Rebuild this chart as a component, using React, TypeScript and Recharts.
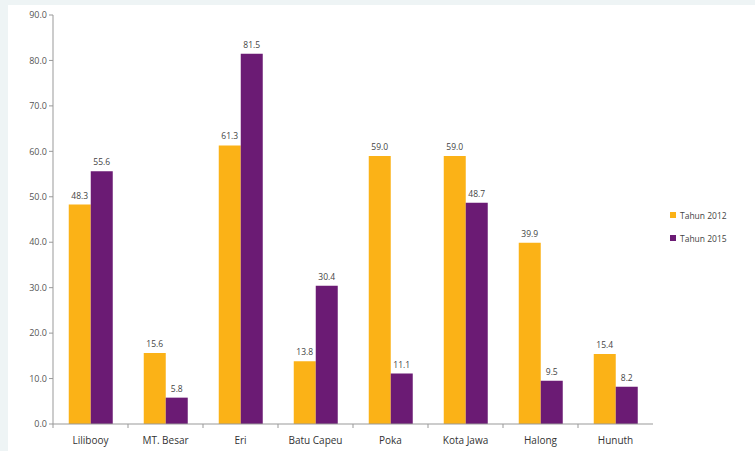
import React from "react";
import { BarChart, Bar, XAxis, YAxis, LabelList } from "recharts";

const categories = ["Lilibooy", "MT. Besar", "Eri", "Batu Capeu", "Poka", "Kota Jawa", "Halong", "Hunuth"];
const tahun2012 = [48.3, 15.6, 61.3, 13.8, 59.0, 59.0, 39.9, 15.4];
const tahun2015 = [55.6, 5.8, 81.5, 30.4, 11.1, 48.7, 9.5, 8.2];
const yTicks = [0, 10, 20, 30, 40, 50, 60, 70, 80, 90];
const seriesNames = ["Tahun 2012", "Tahun 2015"];

const ORANGE = "#FBB217";
const PURPLE = "#6B1B74";
const FONT = "'Open Sans', 'Noto Sans', sans-serif";

const data = categories.map((c, i) => ({ name: c, a: tahun2012[i], b: tahun2015[i] }));

const CatTick = (props: any) => {
  const { x, y, payload } = props;
  return (
    <g>
      <line x1={x - 37.5} x2={x - 37.5} y1={y - 8} y2={y - 4} stroke="#999" strokeWidth={1} />
      <text x={x} y={y + 12} textAnchor="middle" fontSize={10} fill="#333" fontFamily={FONT}>
        {payload.value}
      </text>
    </g>
  );
};

export default function App() {
  return (
    <div style={{ position: "fixed", left: 0, top: 0, width: 755, height: 451, background: "#eef4f5" }}>
      <div style={{ position: "absolute", left: 8, top: 5, width: 747, height: 446, background: "#ffffff" }} />
      <div style={{ position: "absolute", left: 0, top: 0 }}>
        <BarChart
          width={755}
          height={451}
          data={data}
          margin={{ top: 15, right: 102, bottom: 5, left: 0 }}
          barCategoryGap="21%"
          barGap={0}
        >
          <XAxis
            dataKey="name"
            axisLine={{ stroke: "#999" }}
            tickLine={false}
            height={22}
            tick={<CatTick />}
            interval={0}
          />
          <YAxis
            width={53}
            domain={[0, 90]}
            ticks={yTicks}
            tickFormatter={(v: number) => v.toFixed(1)}
            axisLine={{ stroke: "#999" }}
            tickLine={{ stroke: "#999" }}
            tickSize={4}
            tick={{ fontSize: 9, fill: "#555", fontFamily: FONT }}
          />
          <Bar dataKey="a" name={seriesNames[0]} fill={ORANGE} isAnimationActive={false}>
            <LabelList
              dataKey="a"
              position="top"
              offset={6}
              formatter={(v: number) => v.toFixed(1)}
              style={{ fontSize: 8.5, fill: "#444", fontFamily: FONT }}
            />
          </Bar>
          <Bar dataKey="b" name={seriesNames[1]} fill={PURPLE} isAnimationActive={false}>
            <LabelList
              dataKey="b"
              position="top"
              offset={6}
              formatter={(v: number) => v.toFixed(1)}
              style={{ fontSize: 8.5, fill: "#444", fontFamily: FONT }}
            />
          </Bar>
        </BarChart>
      </div>
      <div style={{ position: "absolute", left: 670, top: 209, fontFamily: FONT, fontSize: 8.5, color: "#444" }}>
        {seriesNames.map((n, i) => (
          <div key={n} style={{ display: "flex", alignItems: "center", height: 12, marginBottom: 11 }}>
            <span style={{ display: "inline-block", width: 6, height: 6, background: i === 0 ? ORANGE : PURPLE, marginRight: 4 }} />
            {n}
          </div>
        ))}
      </div>
    </div>
  );
}
